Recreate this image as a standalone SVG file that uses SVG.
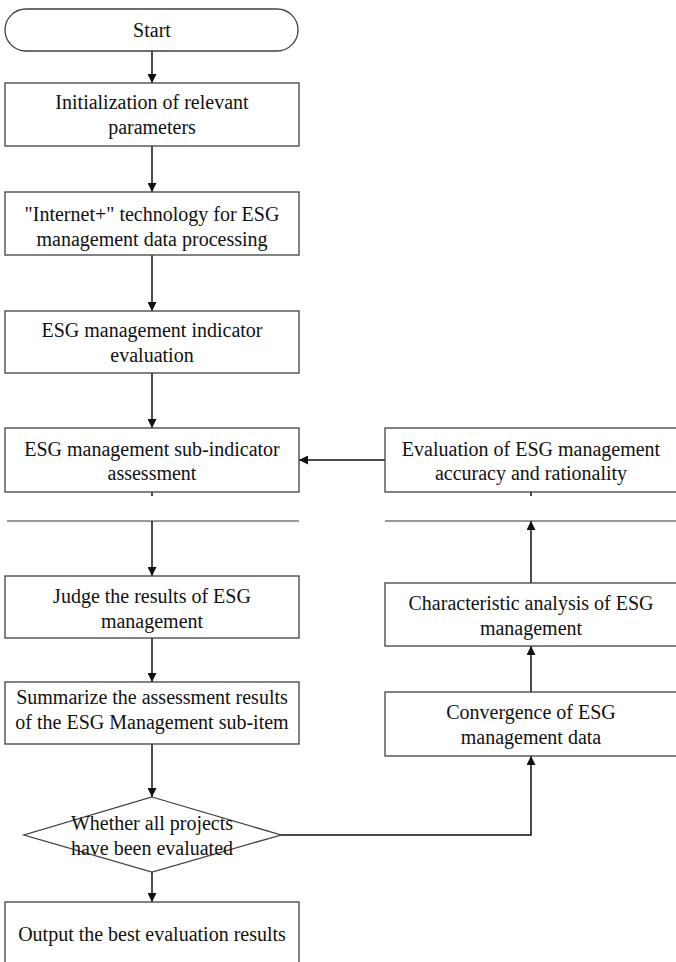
<svg xmlns="http://www.w3.org/2000/svg" width="676" height="962" viewBox="0 0 676 962">
<style>
.b{fill:#fff;stroke:#404040;stroke-width:1.3}
.t{font-size:20px;fill:#111;text-anchor:middle;dominant-baseline:central}
.c{fill:none;stroke:#111;stroke-width:1.5}
</style>
<defs>
<marker id="a" viewBox="0 0 10 10" refX="10" refY="5" markerWidth="9" markerHeight="9" markerUnits="userSpaceOnUse" orient="auto"><path d="M0,0 L10,5 L0,10 z" fill="#111"/></marker>
</defs>
<rect width="676" height="962" fill="#fff"/>
<g id="connectors">
<line class="c" x1="152" y1="51" x2="152" y2="83" marker-end="url(#a)"/>
<line class="c" x1="152" y1="146" x2="152" y2="192" marker-end="url(#a)"/>
<line class="c" x1="152" y1="255" x2="152" y2="311" marker-end="url(#a)"/>
<line class="c" x1="152" y1="373" x2="152" y2="428" marker-end="url(#a)"/>
<line class="c" x1="152" y1="492" x2="152" y2="496"/>
<line class="c" x1="531" y1="492" x2="531" y2="496"/>
<line class="c" x1="385" y1="460" x2="299" y2="460" marker-end="url(#a)"/>
<line x1="7" y1="521" x2="299" y2="521" stroke="#333" stroke-width="1"/>
<line x1="385" y1="521" x2="676" y2="521" stroke="#333" stroke-width="1"/>
<line class="c" x1="152" y1="521" x2="152" y2="576" marker-end="url(#a)"/>
<line class="c" x1="152" y1="638" x2="152" y2="682" marker-end="url(#a)"/>
<line class="c" x1="152" y1="744" x2="152" y2="797" marker-end="url(#a)"/>
<line class="c" x1="152" y1="872" x2="152" y2="902" marker-end="url(#a)"/>
<polyline class="c" points="281,835 531,835 531,756" marker-end="url(#a)"/>
<line class="c" x1="531" y1="692" x2="531" y2="646" marker-end="url(#a)"/>
<line class="c" x1="531" y1="583" x2="531" y2="521" marker-end="url(#a)"/>
</g>
<g font-family="Liberation Serif, Times New Roman, DejaVu Serif, serif">
<g id="start"><rect class="b" x="5" y="9" width="293" height="42" rx="21"/><text class="t" x="152" y="30">Start</text></g>
<g id="init"><rect class="b" x="5" y="83" width="294" height="63"/><text class="t" x="152" y="102">Initialization of relevant</text><text class="t" x="152" y="127">parameters</text></g>
<g id="internet"><rect class="b" x="5" y="192" width="294" height="63"/><text class="t" x="152" y="214">"Internet+" technology for ESG</text><text class="t" x="152" y="239">management data processing</text></g>
<g id="indicator"><rect class="b" x="5" y="311" width="294" height="62"/><text class="t" x="152" y="330">ESG management indicator</text><text class="t" x="152" y="355">evaluation</text></g>
<g id="subindicator"><rect class="b" x="5" y="428" width="294" height="64"/><text class="t" x="152" y="449">ESG management sub-indicator</text><text class="t" x="152" y="473">assessment</text></g>
<g id="accuracy"><rect class="b" x="385" y="428" width="295" height="64"/><text class="t" x="531" y="449">Evaluation of ESG management</text><text class="t" x="531" y="473">accuracy and rationality</text></g>
<g id="judge"><rect class="b" x="5" y="576" width="294" height="62"/><text class="t" x="152" y="596">Judge the results of ESG</text><text class="t" x="152" y="621">management</text></g>
<g id="characteristic"><rect class="b" x="385" y="583" width="295" height="63"/><text class="t" x="531" y="603">Characteristic analysis of ESG</text><text class="t" x="531" y="628">management</text></g>
<g id="summarize"><rect class="b" x="5" y="682" width="294" height="62"/><text class="t" x="152" y="697">Summarize the assessment results</text><text class="t" x="152" y="722">of the ESG Management sub-item</text></g>
<g id="convergence"><rect class="b" x="385" y="692" width="295" height="64"/><text class="t" x="531" y="712">Convergence of ESG</text><text class="t" x="531" y="737">management data</text></g>
<g id="decision"><polygon class="b" points="152,797 281,835 152,872 24,835"/><text class="t" x="152" y="823">Whether all projects</text><text class="t" x="152" y="848">have been evaluated</text></g>
<g id="output"><rect class="b" x="5" y="902" width="294" height="70"/><text class="t" x="152" y="934">Output the best evaluation results</text></g>
</g>
</svg>
